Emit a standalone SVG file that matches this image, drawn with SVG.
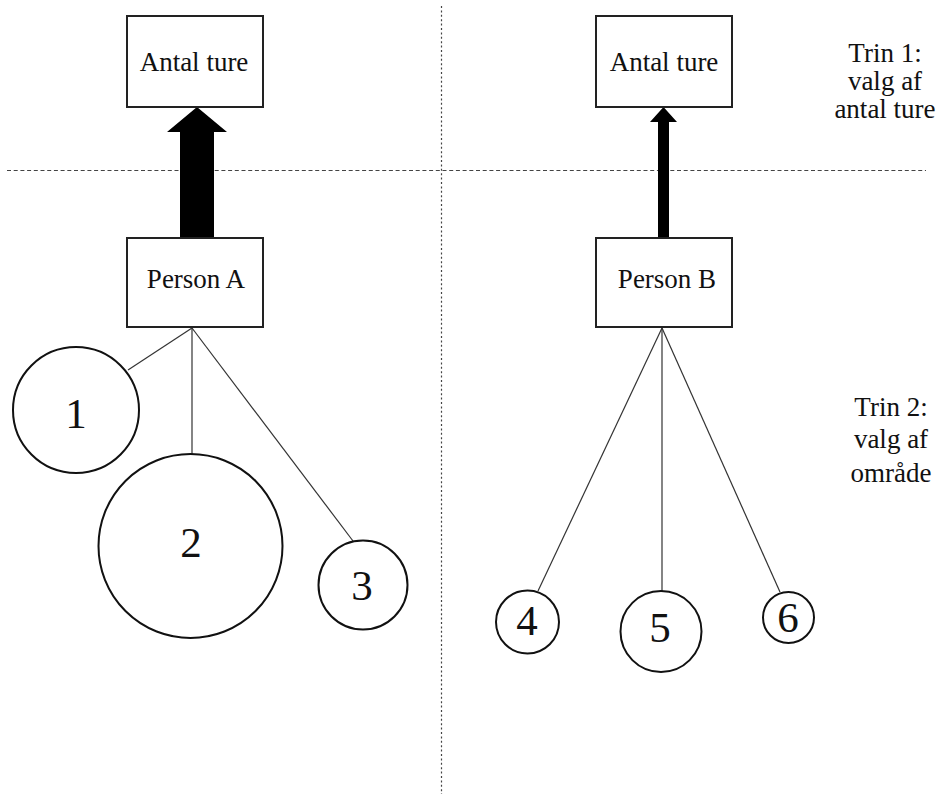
<svg xmlns="http://www.w3.org/2000/svg" width="941" height="794" viewBox="0 0 941 794">
<style>
text{font-family:'Liberation Serif','Times New Roman',serif;fill:#111;text-anchor:middle}
.box{fill:#fff;stroke:#222;stroke-width:2}
.circ{fill:#fff;stroke:#111;stroke-width:2}
.lbl{font-size:27px}
.num{font-size:43px}
.con{stroke:#333;stroke-width:1.2;fill:none}
.arr{fill:#000;stroke:none}
.dh{stroke:#444;stroke-width:1.2;stroke-dasharray:4 2.7;fill:none}
.dv{stroke:#444;stroke-width:1.2;stroke-dasharray:2 2.4;fill:none}
</style>
<rect width="941" height="794" fill="#fff"/>
<g id="dividers">
<line class="dh" x1="7" y1="170.5" x2="926" y2="170.5"/>
<line class="dv" x1="441.5" y1="6" x2="441.5" y2="794"/>
</g>
<g id="connectors">
<polygon class="arr" points="180,238 214,238 214,132 227,132 197,107 167,132 180,132"/>
<polygon class="arr" points="658,238 669,238 669,122 677,122 663.5,107 650,122 658,122"/>
<line class="con" x1="192" y1="328" x2="128" y2="370"/>
<line class="con" x1="192" y1="328" x2="192" y2="454"/>
<line class="con" x1="192" y1="328" x2="353" y2="541"/>
<line class="con" x1="662" y1="328" x2="538" y2="591"/>
<line class="con" x1="662" y1="328" x2="662" y2="591"/>
<line class="con" x1="662" y1="328" x2="780" y2="592"/>
</g>
<g id="antalA"><rect class="box" x="127" y="16" width="136" height="91"/><text class="lbl" x="194" y="71">Antal ture</text></g>
<g id="antalB"><rect class="box" x="596" y="16" width="136" height="91"/><text class="lbl" x="664" y="71">Antal ture</text></g>
<g id="personA"><rect class="box" x="127" y="238" width="136" height="89"/><text class="lbl" x="196" y="288">Person A</text></g>
<g id="personB"><rect class="box" x="596" y="238" width="136" height="89"/><text class="lbl" x="667" y="288">Person B</text></g>
<g id="c1"><circle class="circ" cx="76" cy="410" r="63"/><text class="num" x="76" y="428">1</text></g>
<g id="c2"><circle class="circ" cx="190.5" cy="546" r="92"/><text class="num" x="191" y="557">2</text></g>
<g id="c3"><circle class="circ" cx="363" cy="585" r="44.5"/><text class="num" x="362" y="600">3</text></g>
<g id="c4"><circle class="circ" cx="527.5" cy="622" r="31.5"/><text class="num" x="527" y="635">4</text></g>
<g id="c5"><circle class="circ" cx="661" cy="631.5" r="40.5"/><text class="num" x="660" y="642">5</text></g>
<g id="c6"><circle class="circ" cx="788.5" cy="617.5" r="25.5"/><text class="num" x="788" y="632">6</text></g>
<g id="trin1"><text class="lbl" x="885" y="62">Trin 1:</text><text class="lbl" x="885" y="90">valg af</text><text class="lbl" x="885" y="118">antal ture</text></g>
<g id="trin2"><text class="lbl" x="891" y="416">Trin 2:</text><text class="lbl" x="891" y="448">valg af</text><text class="lbl" x="891" y="482">område</text></g>
</svg>
